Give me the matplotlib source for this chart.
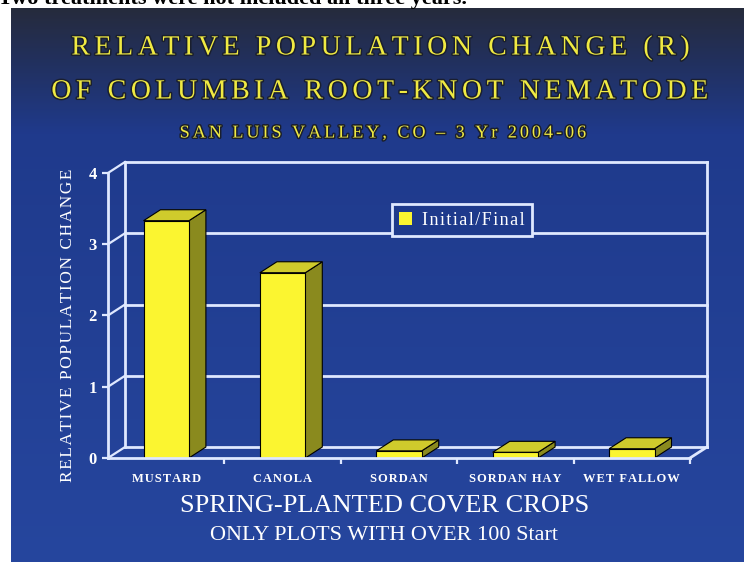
import numpy as np
import matplotlib.pyplot as plt
from matplotlib.patches import Polygon, Patch
from matplotlib.ticker import FixedLocator, NullFormatter
import matplotlib.patheffects as pe

# ---- data ----
categories = ["MUSTARD", "CANOLA", "SORDAN", "SORDAN HAY", "WET FALLOW"]
values = [3.33, 2.6, 0.1, 0.08, 0.13]
y_ticks = [0, 1, 2, 3, 4]
series_name = "Initial/Final"

title_1 = "RELATIVE POPULATION CHANGE (R)"
title_2 = "OF COLUMBIA ROOT-KNOT NEMATODE"
subtitle = "SAN LUIS VALLEY, CO \u2013 3 Yr 2004-06"
x_title = "SPRING-PLANTED COVER CROPS"
x_note = "ONLY PLOTS WITH OVER 100 Start"
y_title = "RELATIVE POPULATION CHANGE"
caption = "Two treatments were not included all three years."

# ---- style ----
W, H = 744, 562
SERIF = ["Liberation Serif", "DejaVu Serif"]
YELLOW = "#f0ea42"
BAR_FRONT = "#fbf530"
BAR_SIDE = "#8a8a1e"
BAR_TOP = "#cfcb2c"
LINE = "#dfe8ff"
PLOT_BG = (30 / 255, 58 / 255, 140 / 255)


def spaced(s, k=1):
    """Letter-spaced version of a string using hair spaces."""
    return ("\u200a" * k).join(s)


fig = plt.figure(figsize=(W / 100, H / 100), dpi=100)
fig.patch.set_facecolor("white")

# slide background with a vertical gradient
bg = fig.add_axes([11 / W, 0, 1 - 11 / W, (H - 8) / H])
bg.axis("off")
ys = np.linspace(0, 1, 400)
stops = [0, 50 / 554, 125 / 554, 1]
cols = np.array([[38, 43, 60], [34, 48, 92], [31, 58, 140], [38, 70, 158]]) / 255
grad = np.stack([np.interp(ys, stops, cols[:, i]) for i in range(3)], axis=-1)
bg.imshow(grad[:, None, :], aspect="auto", extent=[0, 1, 0, 1], origin="upper")

# caption line cut at the top edge
fig.text(-2 / W, 1 - 4 / H, caption, ha="left", va="baseline", fontsize=16,
         fontweight="bold", family=SERIF, color="black")

# titles
shadow = [pe.withStroke(linewidth=2.2, foreground="#1a1f2e")]
fig.text(382 / W, 1 - 48 / H, spaced(title_1, 2), ha="center", va="center",
         fontsize=20, family=SERIF, color=YELLOW, path_effects=shadow)
fig.text(381 / W, 1 - 92 / H, spaced(title_2, 2), ha="center", va="center",
         fontsize=20, family=SERIF, color=YELLOW, path_effects=shadow)
fig.text(382 / W, 1 - 133 / H, spaced(subtitle, 2), ha="center", va="center",
         fontsize=13, family=SERIF, color=YELLOW, path_effects=shadow)

# ---- pseudo-3D plot ----
dx, dy = 0.146, 0.154          # depth offset in data units
ax = fig.add_axes([108 / W, (H - 458) / H, (707 - 108) / W, (458 - 162) / H])
ax.set_facecolor("none")
n = len(categories)
x = np.arange(n)
ax.set_xlim(-0.5, n - 0.5 + dx)
ax.set_ylim(0, y_ticks[-1] + dy)

# back wall and grid
xl, xr = -0.5 + dx, n - 0.5 + dx
for t in y_ticks:
    ax.plot([xl, xr], [t + dy, t + dy], color=LINE, lw=2, zorder=1, clip_on=False)
    ax.plot([-0.5, xl], [t, t + dy], color=LINE, lw=1.6, zorder=1, clip_on=False)
ax.plot([xl, xl], [dy, y_ticks[-1] + dy], color=LINE, lw=2, zorder=1, clip_on=False)
ax.plot([xr, xr], [dy, y_ticks[-1] + dy], color=LINE, lw=2, zorder=1, clip_on=False)
ax.plot([n - 0.5, xr], [0, dy], color=LINE, lw=2, zorder=1, clip_on=False)

# bars
width = 0.39
bars = ax.bar(x, values, width=width, color=BAR_FRONT, edgecolor="black",
              linewidth=0.8, zorder=4)
for b in bars:
    x0, x1, h = b.get_x(), b.get_x() + b.get_width(), b.get_height()
    ax.add_patch(Polygon([(x1, 0), (x1 + dx, dy), (x1 + dx, h + dy), (x1, h)],
                         closed=True, facecolor=BAR_SIDE, edgecolor="black",
                         lw=0.8, zorder=3))
    ax.add_patch(Polygon([(x0, h), (x1, h), (x1 + dx, h + dy), (x0 + dx, h + dy)],
                         closed=True, facecolor=BAR_TOP, edgecolor="black",
                         lw=0.8, zorder=3))

# front axes
for s in ["top", "right"]:
    ax.spines[s].set_visible(False)
ax.spines["left"].set_bounds(0, y_ticks[-1])
ax.spines["bottom"].set_bounds(-0.5, n - 0.5)
for s in ["left", "bottom"]:
    ax.spines[s].set_color(LINE)
    ax.spines[s].set_linewidth(2)
    ax.spines[s].set_zorder(5)

ax.set_yticks(y_ticks)
ax.set_yticklabels([str(t) for t in y_ticks])
ax.set_xticks(x)
ax.set_xticklabels([spaced(c, 1) for c in categories])
ax.xaxis.set_minor_locator(FixedLocator(np.arange(n) + 0.5))
ax.xaxis.set_minor_formatter(NullFormatter())
ax.tick_params(axis="x", which="major", length=0, pad=11, colors="white")
ax.tick_params(axis="x", which="minor", length=4, width=1.6, color=LINE, direction="out")
ax.tick_params(axis="y", length=4, width=1.6, color=LINE, pad=4, labelcolor="white")
for lab in ax.get_xticklabels():
    lab.set_fontfamily(SERIF)
    lab.set_fontweight("bold")
    lab.set_fontsize(9)
for lab in ax.get_yticklabels():
    lab.set_fontfamily(SERIF)
    lab.set_fontweight("bold")
    lab.set_fontsize(12)

# legend
leg = ax.legend(handles=[Patch(facecolor=BAR_FRONT, edgecolor="none")],
                labels=[spaced(series_name, 1)], loc="center",
                bbox_to_anchor=(462 / W, 1 - 220 / H), bbox_transform=fig.transFigure,
                frameon=True, fancybox=False, framealpha=1, facecolor=PLOT_BG,
                edgecolor=LINE, handlelength=0.7, handleheight=0.7, handletextpad=0.6,
                borderpad=0.4, prop={"family": SERIF, "size": 13})
leg.get_frame().set_linewidth(2)
leg.set_zorder(6)
for t in leg.get_texts():
    t.set_color("white")

# axis titles
fig.text(68 / W, 1 - 325 / H, spaced(y_title, 1), rotation=90, ha="center",
         va="center", fontsize=12.5, family=SERIF, color="white")
fig.text(385 / W, 1 - 506 / H, x_title, ha="center", va="center",
         fontsize=19, family=SERIF, color="white")
fig.text(384 / W, 1 - 535 / H, x_note, ha="center", va="center",
         fontsize=16, family=SERIF, color="white")

fig.savefig("out.png", dpi=100, facecolor=fig.get_facecolor())
